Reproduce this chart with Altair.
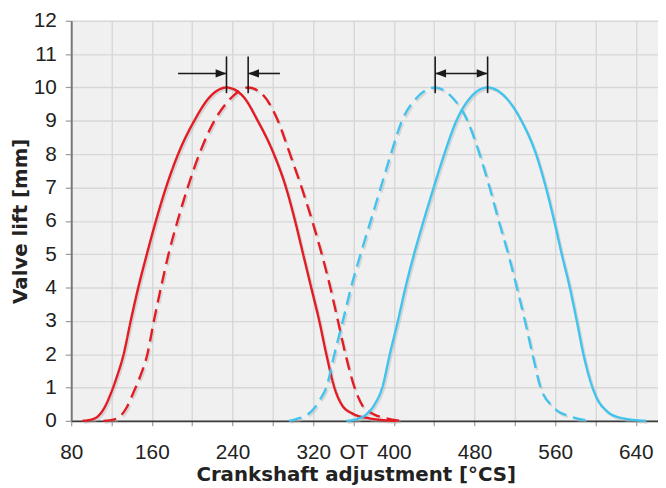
import altair as alt
import pandas as pd

# ---- data ----
red_solid_x = [91, 100, 107, 113, 119, 125, 132, 139, 146.5, 155, 164, 174, 186, 202, 217, 234, 250, 265, 281, 293, 302, 310, 318, 326, 333, 341, 348, 359, 375, 390, 402]
red_solid_y = [0, 0.04, 0.15, 0.4, 0.8, 1.3, 2, 3, 4, 5, 6, 7, 8, 9, 9.7, 10, 9.75, 9, 8, 7, 6, 5, 4, 3, 2, 1, 0.5, 0.22, 0.08, 0.02, 0]

red_dash_x = [112, 122, 129, 135, 141, 148, 155.5, 162, 169, 176.5, 185.5, 195.5, 207, 222, 239, 255.5, 271, 285, 297, 308.5, 319, 328.5, 337, 344.5, 352, 361, 369, 380, 392, 407]
red_dash_y = [0, 0.04, 0.15, 0.4, 0.8, 1.3, 2, 3, 4, 5, 6, 7, 8, 9, 9.7, 10, 9.75, 9, 8, 7, 6, 5, 4, 3, 2, 1, 0.45, 0.2, 0.08, 0]

blue_dash_x = [296, 304, 314, 321, 327, 333, 341, 349.4, 357.5, 367, 377, 387, 397, 408, 423, 441, 458, 473, 485, 495, 504, 513.5, 522, 530, 537.5, 545.5, 558.6, 575, 595]
blue_dash_y = [0, 0.06, 0.18, 0.38, 0.65, 1, 2, 3, 4, 5, 6, 7, 8, 9, 9.7, 10, 9.7, 9, 8, 7, 6, 5, 4, 3, 2, 1, 0.4, 0.13, 0]

blue_solid_x = [353, 364, 373, 381, 388.5, 396, 404, 411.5, 420, 429.5, 439.5, 450, 462, 476, 493, 511, 526.5, 541, 550.8, 559, 566.5, 574.5, 581.4, 588, 597, 601, 611, 624, 650]
blue_solid_y = [0, 0.06, 0.2, 0.5, 1, 2, 3, 4, 5, 6, 7, 8, 9, 9.7, 10, 9.7, 9, 8, 7, 6, 5, 4, 3, 2, 1, 0.7, 0.3, 0.1, 0]

x_ticks = [80, 120, 160, 200, 240, 280, 320, 360, 400, 440, 480, 520, 560, 600, 640]
y_ticks = list(range(0, 13))

# annotation (phase-shift markers)
marker_x = [234, 255.5, 441, 493]
marker_y_low, marker_y_high = 9.83, 10.93
arrow_y = 10.42
shaft_from = [186, 287, 441]
shaft_to = [234, 255.5, 493]
head_right_x = [234, 493]
head_left_x = [255.5, 441]

RED = "#e31b23"
BLUE = "#41c3ee"
LABEL_FONT = "Liberation Sans"
TITLE_FONT = "DejaVu Sans"

rows = []
for name, xs, ys in [("red_solid", red_solid_x, red_solid_y),
                     ("red_dash", red_dash_x, red_dash_y),
                     ("blue_dash", blue_dash_x, blue_dash_y),
                     ("blue_solid", blue_solid_x, blue_solid_y)]:
    for i, (a, b) in enumerate(zip(xs, ys)):
        rows.append({"series": name, "x": a, "y": b, "i": i})
df = pd.DataFrame(rows)

series_dom = ["red_solid", "red_dash", "blue_dash", "blue_solid"]
xscale = alt.Scale(domain=[80, 662], nice=False, zero=False)
yscale = alt.Scale(domain=[0, 12], nice=False)

x_axis = alt.Axis(values=x_ticks, title="Crankshaft adjustment [°CS]",
                  labelExpr="datum.value == 360 ? 'OT' : (datum.value % 80 == 0 ? datum.label : '')",
                  titleX=288, titleY=60, titleBaseline="alphabetic")
y_axis = alt.Axis(values=y_ticks, title="Valve lift [mm]", titleX=-45, titleBaseline="alphabetic")

x_enc = alt.X("x:Q", scale=xscale, axis=x_axis)
y_enc = alt.Y("y:Q", scale=yscale, axis=y_axis)

dash_enc = alt.StrokeDash("series:N", scale=alt.Scale(domain=series_dom,
                          range=[[1, 0], [13, 7], [13, 7], [1, 0]]), legend=None)

shadow = alt.Chart(df).mark_line(interpolate="monotone", strokeWidth=2.5, color="#b5b5b5",
                                 opacity=0.45, xOffset=1.5, yOffset=1.8).encode(
    x=x_enc, y=y_enc, detail="series:N", order="i:Q", strokeDash=dash_enc)

lines = alt.Chart(df).mark_line(interpolate="monotone", strokeWidth=2.4).encode(
    x=x_enc, y=y_enc, order="i:Q",
    color=alt.Color("series:N", scale=alt.Scale(domain=series_dom, range=[RED, RED, BLUE, BLUE]), legend=None),
    strokeDash=dash_enc)

mk = pd.DataFrame({"x": marker_x, "y": [marker_y_low] * 4, "y2": [marker_y_high] * 4})
markers = alt.Chart(mk).mark_rule(color="#1a1a1a", strokeWidth=1.6).encode(
    x=x_enc, y=y_enc, y2="y2:Q")

sh = pd.DataFrame({"x": shaft_from, "x2": shaft_to, "y": [arrow_y] * 3})
shafts = alt.Chart(sh).mark_rule(color="#1a1a1a", strokeWidth=1.6).encode(
    x=x_enc, x2="x2:Q", y=y_enc)

hr = pd.DataFrame({"x": head_right_x, "y": [arrow_y] * 2})
hl = pd.DataFrame({"x": head_left_x, "y": [arrow_y] * 2})
heads_r = alt.Chart(hr).mark_point(shape="M0,0L-1,-0.38L-1,0.38Z", filled=True, size=484,
                                   color="#1a1a1a", opacity=1, strokeWidth=0).encode(x=x_enc, y=y_enc)
heads_l = alt.Chart(hl).mark_point(shape="M0,0L1,-0.38L1,0.38Z", filled=True, size=484,
                                   color="#1a1a1a", opacity=1, strokeWidth=0).encode(x=x_enc, y=y_enc)

chart = alt.layer(shadow, lines, markers, shafts, heads_r, heads_l).properties(
    width=594, height=405,
    autosize=alt.AutoSizeParams(type="none"),
    padding={"left": 64, "top": 10, "right": 0, "bottom": 65},
).configure_view(fill="#f0f0f0", stroke=None).configure_axis(
    labelFont=LABEL_FONT, titleFont=TITLE_FONT, labelFontSize=21, titleFontSize=20,
    labelColor="#222222", titleColor="#222222", titleFontWeight="bold",
    grid=True, gridColor="#d7d7d7", gridWidth=1.4,
    tickColor="#9a9a9a", tickWidth=1.2,
).configure_axisX(
    domainColor="#3a3a3a", domainWidth=1.8, tickSize=5, labelPadding=16,
    labelFlush=False, labelOverlap=False,
).configure_axisY(
    domainColor="#777777", domainWidth=2, tickSize=6, labelPadding=9,
    labelOverlap=False,
)

chart.save("out.html", embed_options={"renderer": "svg", "actions": False})
